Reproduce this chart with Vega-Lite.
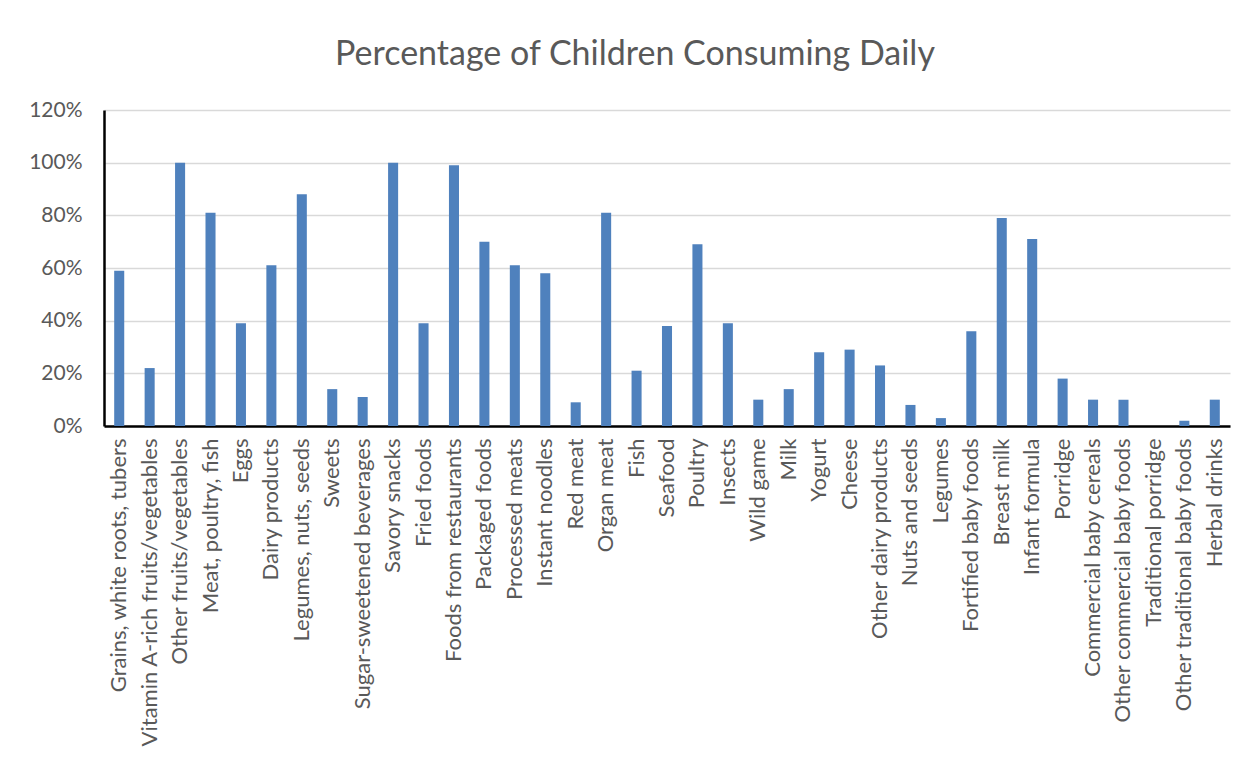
{
  "$schema": "https://vega.github.io/schema/vega-lite/v6.json",
  "autosize": {"type": "none"},
  "padding": {"left": 104, "top": 110, "right": 18, "bottom": 335},
  "width": 1126,
  "height": 316,
  "background": "white",
  "title": {
    "text": "Percentage of Children Consuming Daily",
    "fontSize": 34,
    "font": "Lato",
    "fontWeight": "normal",
    "color": "#595959",
    "anchor": "middle",
    "dx": -32,
    "offset": 27
  },
  "data": {
    "values": [
      {"food": "Grains, white roots, tubers", "pct": 0.59},
      {"food": "Vitamin A-rich fruits/vegetables", "pct": 0.22},
      {"food": "Other fruits/vegetables", "pct": 1.00},
      {"food": "Meat, poultry, fish", "pct": 0.81},
      {"food": "Eggs", "pct": 0.39},
      {"food": "Dairy products", "pct": 0.61},
      {"food": "Legumes, nuts, seeds", "pct": 0.88},
      {"food": "Sweets", "pct": 0.14},
      {"food": "Sugar-sweetened beverages", "pct": 0.11},
      {"food": "Savory snacks", "pct": 1.00},
      {"food": "Fried foods", "pct": 0.39},
      {"food": "Foods from restaurants", "pct": 0.99},
      {"food": "Packaged foods", "pct": 0.70},
      {"food": "Processed meats", "pct": 0.61},
      {"food": "Instant noodles", "pct": 0.58},
      {"food": "Red meat", "pct": 0.09},
      {"food": "Organ meat", "pct": 0.81},
      {"food": "Fish", "pct": 0.21},
      {"food": "Seafood", "pct": 0.38},
      {"food": "Poultry", "pct": 0.69},
      {"food": "Insects", "pct": 0.39},
      {"food": "Wild game", "pct": 0.10},
      {"food": "Milk", "pct": 0.14},
      {"food": "Yogurt", "pct": 0.28},
      {"food": "Cheese", "pct": 0.29},
      {"food": "Other dairy products", "pct": 0.23},
      {"food": "Nuts and seeds", "pct": 0.08},
      {"food": "Legumes", "pct": 0.03},
      {"food": "Fortified baby foods", "pct": 0.36},
      {"food": "Breast milk", "pct": 0.79},
      {"food": "Infant formula", "pct": 0.71},
      {"food": "Porridge", "pct": 0.18},
      {"food": "Commercial baby cereals", "pct": 0.10},
      {"food": "Other commercial baby foods", "pct": 0.10},
      {"food": "Traditional porridge", "pct": 0.00},
      {"food": "Other traditional baby foods", "pct": 0.02},
      {"food": "Herbal drinks", "pct": 0.10}
    ]
  },
  "mark": {"type": "bar", "color": "#4F81BD"},
  "encoding": {
    "x": {
      "field": "food",
      "type": "nominal",
      "sort": null,
      "title": null,
      "scale": {"paddingInner": 0.67, "paddingOuter": 0.335},
      "axis": {
        "labelAngle": -90,
        "labelFont": "Lato",
        "labelFontSize": 22,
        "labelColor": "#595959",
        "labelPadding": 12,
        "labelLimit": 0,
        "ticks": false,
        "domainColor": "black",
        "domainWidth": 2.5,
        "grid": false
      }
    },
    "y": {
      "field": "pct",
      "type": "quantitative",
      "title": null,
      "scale": {"domain": [0, 1.2], "nice": false},
      "axis": {
        "values": [0, 0.2, 0.4, 0.6, 0.8, 1.0, 1.2],
        "format": ".0%",
        "labelFont": "Lato",
        "labelFontSize": 21,
        "labelColor": "#595959",
        "labelPadding": 22,
        "ticks": false,
        "domainColor": "black",
        "domainWidth": 2.5,
        "gridColor": "#D9D9D9",
        "gridWidth": 1.5
      }
    }
  },
  "config": {
    "view": {"stroke": null}
  }
}
